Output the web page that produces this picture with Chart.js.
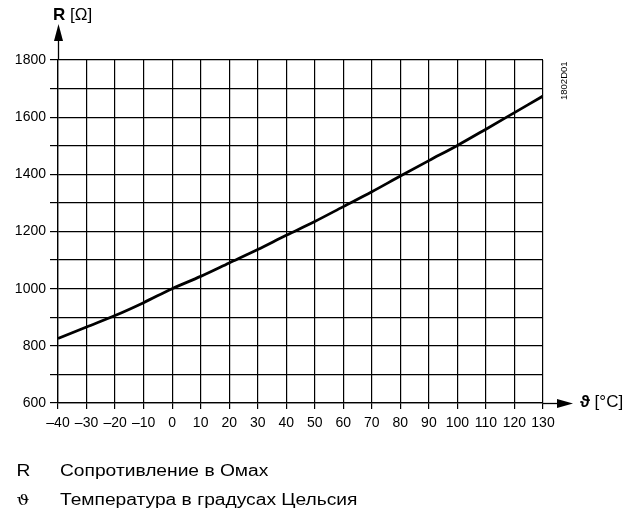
<!DOCTYPE html>
<html>
<head>
<meta charset="utf-8">
<script src="https://cdn.jsdelivr.net/npm/chart.js@4"></script>
<style>
  html, body { margin: 0; padding: 0; background: #fff; }
  #wrap { width: 639px; height: 518px; }
</style>
</head>
<body>
<div id="wrap"><canvas id="c" width="639" height="518"></canvas></div>
<script>
const temperatures = [-40, -30, -20, -10, 0, 10, 20, 30, 40, 50, 60, 70, 80, 90, 100, 110, 120, 130];
const resistance = [826, 866, 906, 951, 1000, 1043, 1090, 1137, 1187, 1235, 1287, 1339, 1394, 1448, 1501, 1558, 1616, 1674];
const yTickLabels = [600, 800, 1000, 1200, 1400, 1600, 1800];
const yAxisTitle = ['R', ' [Ω]'];
const xAxisTitle = ['ϑ', ' [°C]'];
const codeLabel = '1802D01';
const legendRows = [['R', 'Сопротивление в Омах'], ['ϑ', 'Температура в градусах Цельсия']];

const FONT = "'Liberation Sans', Arial, sans-serif";

const decor = {
  id: 'decor',
  afterDraw(chart) {
    const ctx = chart.ctx;
    const a = chart.chartArea;
    const L = Math.round(a.left) + 0.5, B = Math.round(a.bottom) + 0.5;
    ctx.save();
    ctx.strokeStyle = '#000';
    ctx.fillStyle = '#000';
    ctx.lineWidth = 1.3;
    // y axis extension + arrow
    ctx.beginPath(); ctx.moveTo(L, a.top); ctx.lineTo(L, 38); ctx.stroke();
    ctx.beginPath(); ctx.moveTo(L, 24); ctx.lineTo(L - 4.5, 41); ctx.lineTo(L + 4.5, 41); ctx.closePath(); ctx.fill();
    // x axis extension + arrow
    ctx.beginPath(); ctx.moveTo(a.right, B); ctx.lineTo(560, B); ctx.stroke();
    ctx.beginPath(); ctx.moveTo(573, B); ctx.lineTo(557, B - 4.5); ctx.lineTo(557, B + 4.5); ctx.closePath(); ctx.fill();

    // y title
    ctx.textBaseline = 'alphabetic';
    ctx.textAlign = 'left';
    ctx.font = 'bold 17px ' + FONT;
    ctx.fillText(yAxisTitle[0], 53, 20);
    let w = ctx.measureText(yAxisTitle[0]).width;
    ctx.font = '17px ' + FONT;
    ctx.fillText(yAxisTitle[1], 53 + w, 20);

    // x title
    ctx.textBaseline = 'middle';
    ctx.font = 'bold 17px ' + FONT;
    ctx.fillText(xAxisTitle[0], 580, 402);
    w = ctx.measureText(xAxisTitle[0]).width;
    ctx.font = '17px ' + FONT;
    ctx.fillText(xAxisTitle[1], 580 + w, 402);

    // code label rotated
    ctx.save();
    ctx.translate(567, 100);
    ctx.rotate(-Math.PI / 2);
    ctx.font = '9.5px ' + FONT;
    ctx.textBaseline = 'alphabetic';
    ctx.textAlign = 'left';
    ctx.fillText(codeLabel, 0, 0);
    ctx.restore();

    // legend rows (horizontally widened like the reference)
    ctx.save();
    ctx.scale(1.2, 1);
    ctx.textBaseline = 'middle';
    ctx.textAlign = 'left';
    const ys = [472, 501];
    legendRows.forEach((r, i) => {
      ctx.font = (i === 1 ? "15px 'DejaVu Serif', serif" : '16px ' + FONT);
      ctx.fillText(r[0], 16.5 / 1.2, ys[i]);
      ctx.font = '16px ' + FONT;
      ctx.fillText(r[1], 60 / 1.2, ys[i]);
    });
    ctx.restore();
    ctx.restore();
  }
};

new Chart(document.getElementById('c'), {
  type: 'scatter',
  data: {
    datasets: [{
      data: temperatures.map((t, i) => ({ x: t, y: resistance[i] })),
      showLine: true,
      borderColor: '#000',
      borderWidth: 2.8,
      pointRadius: 0,
      cubicInterpolationMode: 'monotone',
      fill: false
    }]
  },
  options: {
    responsive: false,
    animation: false,
    events: [],
    layout: { padding: { left: 0, top: 60, right: 96, bottom: 85 } },
    plugins: { legend: { display: false }, tooltip: { enabled: false } },
    scales: {
      x: {
        type: 'linear',
        min: -40, max: 130,
        afterFit(s) { s.height = 30; },
        ticks: {
          stepSize: 10,
          color: '#000',
          font: { family: FONT, size: 14 },
          padding: 6,
          maxRotation: 0,
          autoSkip: false,
          callback: v => (v < 0 ? '\u2013' + Math.abs(v) : String(v))
        },
        grid: { color: '#000', lineWidth: 1.2, tickLength: 6, drawTicks: true },
        border: { color: '#000', width: 1.3 }
      },
      y: {
        type: 'linear',
        min: 600, max: 1800,
        afterFit(s) { s.width = 58; },
        ticks: {
          stepSize: 100,
          color: '#000',
          font: { family: FONT, size: 14 },
          padding: 4,
          autoSkip: false,
          callback: v => (yTickLabels.includes(v) ? String(v) : '')
        },
        grid: { color: '#000', lineWidth: 1.2, tickLength: 8, drawTicks: true },
        border: { color: '#000', width: 1.3 }
      }
    }
  },
  plugins: [decor]
});
</script>
</body>
</html>
